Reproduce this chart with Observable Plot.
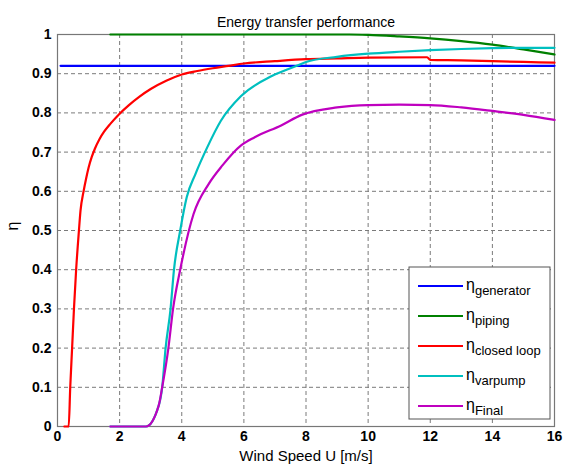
<!DOCTYPE html>
<html>
<head>
<meta charset="utf-8">
<script src="https://cdn.jsdelivr.net/npm/d3@7"></script>
<script src="https://cdn.jsdelivr.net/npm/@observablehq/plot@0.6"></script>
<style>
  html, body { margin: 0; padding: 0; background: #fff; }
  #chart svg { display: block; }
</style>
</head>
<body>
<div id="chart"></div>
<script>
// ---- data ----
const titleText = "Energy transfer performance";
const xLabel = "Wind Speed U [m/s]";
const yLabel = "η";
const xTicks = [0, 2, 4, 6, 8, 10, 12, 14, 16];
const yTicks = [0, 0.1, 0.2, 0.3, 0.4, 0.5, 0.6, 0.7, 0.8, 0.9, 1];
const yTickLabels = ["0", "0.1", "0.2", "0.3", "0.4", "0.5", "0.6", "0.7", "0.8", "0.9", "1"];

const seriesNames = ["generator", "piping", "closed loop", "varpump", "Final"];
const seriesColors = ["#0000ff", "#008000", "#ff0000", "#00bfbf", "#bf00bf"];

const genU = [0.1, 16];
const genEta = [0.92, 0.92];

const pipU = [1.7, 9.4, 10, 11, 12, 13, 14, 15, 16];
const pipEta = [1, 1, 0.999, 0.995, 0.99, 0.983, 0.974, 0.962, 0.949];

const loopU = [0.22, 0.36, 0.41, 0.47, 0.53, 0.6, 0.69, 0.74, 0.84, 0.92, 1.0, 1.1, 1.2, 1.35, 1.5, 1.7, 2.0, 2.3, 2.63, 3.0, 3.5, 4.0, 4.5, 5.0, 5.5, 6.0, 7.0, 8.0, 9.0, 10.0, 11.9, 12.0, 13, 14, 15, 16];
const loopEta = [0, 0, 0.1, 0.2, 0.3, 0.4, 0.5, 0.55, 0.6, 0.632, 0.66, 0.687, 0.708, 0.733, 0.752, 0.772, 0.798, 0.82, 0.841, 0.861, 0.882, 0.898, 0.907, 0.914, 0.92, 0.926, 0.932, 0.937, 0.939, 0.941, 0.942, 0.935, 0.934, 0.932, 0.93, 0.928];

const varU = [1.7, 2.85, 3.26, 3.37, 3.48, 3.64, 3.75, 3.95, 4.16, 4.44, 4.82, 5.26, 5.91, 6.9, 7.7, 8, 9, 10, 11, 12, 13, 14, 15, 16];
const varEta = [0, 0, 0.054, 0.1, 0.2, 0.3, 0.4, 0.5, 0.585, 0.644, 0.712, 0.78, 0.843, 0.894, 0.92, 0.93, 0.943, 0.951, 0.956, 0.96, 0.963, 0.965, 0.966, 0.966];

const finU = [1.7, 2.85, 3.26, 3.37, 3.57, 3.72, 3.95, 4.38, 4.87, 5.31, 5.91, 6.35, 7.2, 7.86, 9, 10, 11, 12, 13, 14, 15, 16];
const finEta = [0, 0, 0.054, 0.1, 0.2, 0.3, 0.4, 0.542, 0.619, 0.666, 0.717, 0.738, 0.768, 0.795, 0.814, 0.82, 0.821, 0.82, 0.814, 0.805, 0.795, 0.782];

// ---- build tables ----
const seriesU = [genU, pipU, loopU, varU, finU];
const seriesEta = [genEta, pipEta, loopEta, varEta, finEta];
const rows = [];
seriesNames.forEach((name, i) => {
  seriesU[i].forEach((u, j) => rows.push({series: name, u, eta: seriesEta[i][j]}));
});

const plot = Plot.plot({
  width: 566,
  height: 467,
  marginLeft: 57,
  marginRight: 12,
  marginTop: 34,
  marginBottom: 41,
  style: {fontFamily: "'Liberation Sans', Arial, sans-serif", fontSize: "14px", background: "#fff", color: "#000"},
  x: {domain: [0, 16]},
  y: {domain: [0, 1]},
  color: {domain: seriesNames, range: seriesColors},
  marks: [
    Plot.gridX(xTicks, {stroke: "#7a7a7a", strokeOpacity: 1, strokeDasharray: "4,3", strokeWidth: 1}),
    Plot.gridY(yTicks, {stroke: "#7a7a7a", strokeOpacity: 1, strokeDasharray: "4,3", strokeWidth: 1}),
    Plot.frame({stroke: "#777", strokeWidth: 1.2}),
    Plot.line(rows, {x: "u", y: "eta", z: "series", stroke: "series", strokeWidth: 2.2, curve: "monotone-x"}),
    Plot.axisX(xTicks, {tickSize: 0, tickPadding: 5, label: null, fontWeight: "bold", fontSize: 14}),
    Plot.axisY(yTicks, {tickSize: 0, tickPadding: 6, label: null, fontWeight: "bold", fontSize: 14,
      tickFormat: d => yTickLabels[yTicks.indexOf(d)]}),
    Plot.text([xLabel], {text: d => d, frameAnchor: "bottom", dy: 34, fontSize: 15}),
    Plot.text([yLabel], {text: d => d, frameAnchor: "left", dx: -45, rotate: -90, fontSize: 16}),
    Plot.text([titleText], {text: d => d, frameAnchor: "top", dy: -17, fontSize: 14})
  ]
});

document.getElementById("chart").appendChild(plot);

// ---- legend (inside the plot area, lower right) ----
const svg = d3.select(plot);
const lg = svg.append("g").attr("font-family", "'Liberation Sans', Arial, sans-serif").attr("text-anchor", "start");
lg.append("rect").attr("x", 409).attr("y", 267).attr("width", 141).attr("height", 152)
  .attr("fill", "#fff").attr("stroke", "#555").attr("stroke-width", 1);
seriesNames.forEach((name, i) => {
  const y = 286 + i * 30;
  lg.append("line").attr("x1", 418).attr("x2", 463).attr("y1", y).attr("y2", y)
    .attr("stroke", seriesColors[i]).attr("stroke-width", 2.2);
  const t = lg.append("text").attr("x", 466).attr("y", y + 4).attr("font-size", 16)
    .attr("fill", "#000").attr("text-anchor", "start");
  t.append("tspan").text("η");
  t.append("tspan").attr("dy", 5).attr("font-size", 13).text(name);
});
</script>
</body>
</html>
